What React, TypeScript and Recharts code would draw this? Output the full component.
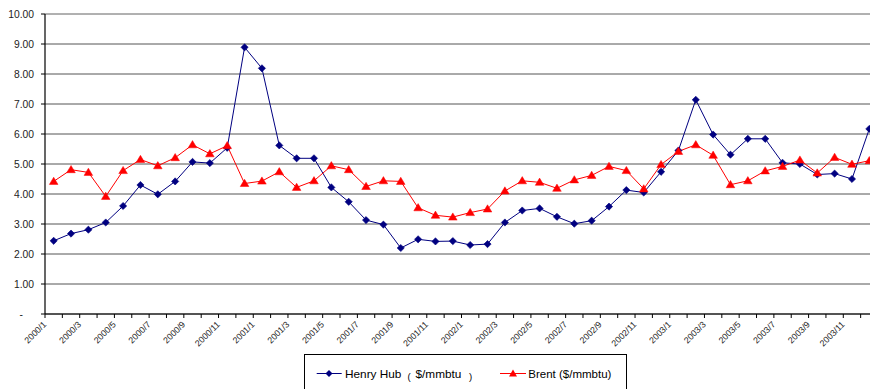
import React from 'react';
import { LineChart, Line, XAxis, YAxis, CartesianGrid, Legend, ReferenceLine } from 'recharts';

const months: string[] = [
  '2000/1', '2000/2', '2000/3', '2000/4', '2000/5', '2000/6', '2000/7', '2000/8', '2000/9', '2000/10', '2000/11', '2000/12',
  '2001/1', '2001/2', '2001/3', '2001/4', '2001/5', '2001/6', '2001/7', '2001/8', '2001/9', '2001/10', '2001/11', '2001/12',
  '2002/1', '2002/2', '2002/3', '2002/4', '2002/5', '2002/6', '2002/7', '2002/8', '2002/9', '2002/10', '2002/11', '2002/12',
  '2003/1', '2003/2', '2003/3', '2003/4', '2003/5', '2003/6', '2003/7', '2003/8', '2003/9', '2003/10', '2003/11', '2003/12',
];

const henryHub: number[] = [
  2.44, 2.68, 2.81, 3.05, 3.6, 4.3, 3.99, 4.42, 5.07, 5.03, 5.54, 8.89,
  8.19, 5.62, 5.19, 5.19, 4.22, 3.74, 3.13, 2.98, 2.2, 2.49, 2.42, 2.43,
  2.3, 2.33, 3.05, 3.45, 3.52, 3.24, 3.01, 3.11, 3.58, 4.13, 4.05, 4.74,
  5.45, 7.14, 5.98, 5.31, 5.84, 5.84, 5.04, 5.0, 4.65, 4.68, 4.5, 6.17,
];

const brent: number[] = [
  4.42, 4.81, 4.72, 3.92, 4.78, 5.15, 4.94, 5.21, 5.64, 5.34, 5.61, 4.35,
  4.43, 4.74, 4.22, 4.44, 4.94, 4.81, 4.25, 4.44, 4.42, 3.54, 3.29, 3.23,
  3.38, 3.5, 4.1, 4.44, 4.39, 4.19, 4.47, 4.62, 4.92, 4.78, 4.17, 4.98,
  5.42, 5.64, 5.29, 4.31, 4.44, 4.77, 4.92, 5.13, 4.7, 5.22, 4.99, 5.11,
];

const yTicks: number[] = [0, 1, 2, 3, 4, 5, 6, 7, 8, 9, 10];

const HH_NAME = 'Henry Hub（$/mmbtu）';
const BRENT_NAME = 'Brent ($/mmbtu)';

const data = months.map((m, i) => ({ month: m, hh: henryHub[i], brent: brent[i] }));

const CHART_W = 890;
const CHART_H = 400;
const MARGIN = { top: 14, right: 12, bottom: 26, left: 0 };
const Y_W = 45;
const PLOT_W = CHART_W - MARGIN.left - MARGIN.right - Y_W;
const BAND = PLOT_W / months.length;
const FONT = "'Liberation Sans', Arial, sans-serif";

const XTick = (props: any) => {
  const { x, y, payload, index } = props;
  const bx = x - BAND / 2;
  return (
    <g>
      <line x1={bx} y1={y} x2={bx} y2={y + 4} stroke="#000" strokeWidth={1} />
      {index % 2 === 0 ? (
        <text
          x={bx + 2}
          y={y + 11}
          textAnchor="end"
          fontFamily={FONT}
          fontSize={8.8}
          fill="#222"
          transform={`rotate(-45 ${bx + 2} ${y + 11})`}
        >
          {payload.value}
        </text>
      ) : null}
    </g>
  );
};

const YTick = (props: any) => {
  const { x, y, payload } = props;
  const v = payload.value as number;
  if (v === 0) {
    return (
      <text x={x - 11} y={y} dy="0.35em" textAnchor="end" fontFamily={FONT} fontSize={10.3} fill="#222">
        -
      </text>
    );
  }
  return (
    <text x={x} y={y} dy="0.35em" textAnchor="end" fontFamily={FONT} fontSize={10.3} fill="#222">
      {v.toFixed(2)}
    </text>
  );
};

const Diamond = (props: any) => {
  const { cx, cy } = props;
  if (cx == null || cy == null) return null;
  const r = 3.6;
  return (
    <polygon
      points={`${cx},${cy - r} ${cx + r},${cy} ${cx},${cy + r} ${cx - r},${cy}`}
      fill="#000080"
      stroke="#000080"
      strokeWidth={0.6}
    />
  );
};

const Triangle = (props: any) => {
  const { cx, cy } = props;
  if (cx == null || cy == null) return null;
  return (
    <polygon
      points={`${cx},${cy - 4.2} ${cx + 4.3},${cy + 3} ${cx - 4.3},${cy + 3}`}
      fill="#FF0000"
      stroke="#FF0000"
      strokeWidth={0.5}
    />
  );
};

const LegendBox = () => (
  <svg width={324} height={40} style={{ display: 'block', overflow: 'visible' }}>
    <rect x={0.5} y={0.5} width={322} height={40} fill="#fff" stroke="#000" strokeWidth={1} />
    <line x1={12.7} y1={19.5} x2={37.7} y2={19.5} stroke="#000080" strokeWidth={1} />
    <polygon points="25,16 28.5,19.5 25,23 21.5,19.5" fill="#000080" />
    <text y={24.3} fontFamily={FONT} fontSize={11.8} fill="#000">
      <tspan x={41}>Henry Hub</tspan>
      <tspan x={103.5} fontSize={9.5} dy={1.5}>(</tspan>
      <tspan x={111.5} dy={-1.5}>$/mmbtu</tspan>
      <tspan x={165} fontSize={9.5} dy={1.5}>)</tspan>
    </text>
    <line x1={196} y1={19.5} x2={222} y2={19.5} stroke="#FF0000" strokeWidth={1} />
    <polygon points="209,15.5 213,22.5 205,22.5" fill="#FF0000" />
    <text x={224.3} y={24.3} fontFamily={FONT} fontSize={11.5} fill="#000">
      {BRENT_NAME}
    </text>
  </svg>
);

export default function App() {
  return (
    <div style={{ position: 'absolute', left: 0, top: 0, width: 870, height: 389, overflow: 'hidden', background: '#fff' }}>
      <LineChart width={CHART_W} height={CHART_H} data={data} margin={MARGIN}>
        <CartesianGrid vertical={false} stroke="#555" strokeWidth={1} />
        <ReferenceLine y={10} stroke="#b8b8b8" strokeWidth={1} ifOverflow="extendDomain" />
        <XAxis
          dataKey="month"
          type="category"
          scale="band"
          interval={0}
          height={60}
          tickLine={false}
          tickSize={0}
          tickMargin={0}
          axisLine={{ stroke: '#000', strokeWidth: 1.2 }}
          tick={<XTick />}
        />
        <YAxis
          width={Y_W}
          domain={[0, 10]}
          ticks={yTicks}
          interval={0}
          tickSize={4}
          tickMargin={7}
          tickLine={{ stroke: '#000' }}
          axisLine={{ stroke: '#000', strokeWidth: 1.2 }}
          tick={<YTick />}
        />
        <Legend
          layout="horizontal"
          verticalAlign="middle"
          align="center"
          content={<LegendBox />}
          wrapperStyle={{ position: 'absolute', left: 304, top: 354, width: 324, height: 40 }}
        />
        <Line
          type="linear"
          dataKey="hh"
          name={HH_NAME}
          stroke="#000080"
          strokeWidth={1}
          dot={<Diamond />}
          activeDot={false}
          isAnimationActive={false}
        />
        <Line
          type="linear"
          dataKey="brent"
          name={BRENT_NAME}
          stroke="#FF0000"
          strokeWidth={1}
          dot={<Triangle />}
          activeDot={false}
          isAnimationActive={false}
        />
      </LineChart>
    </div>
  );
}
